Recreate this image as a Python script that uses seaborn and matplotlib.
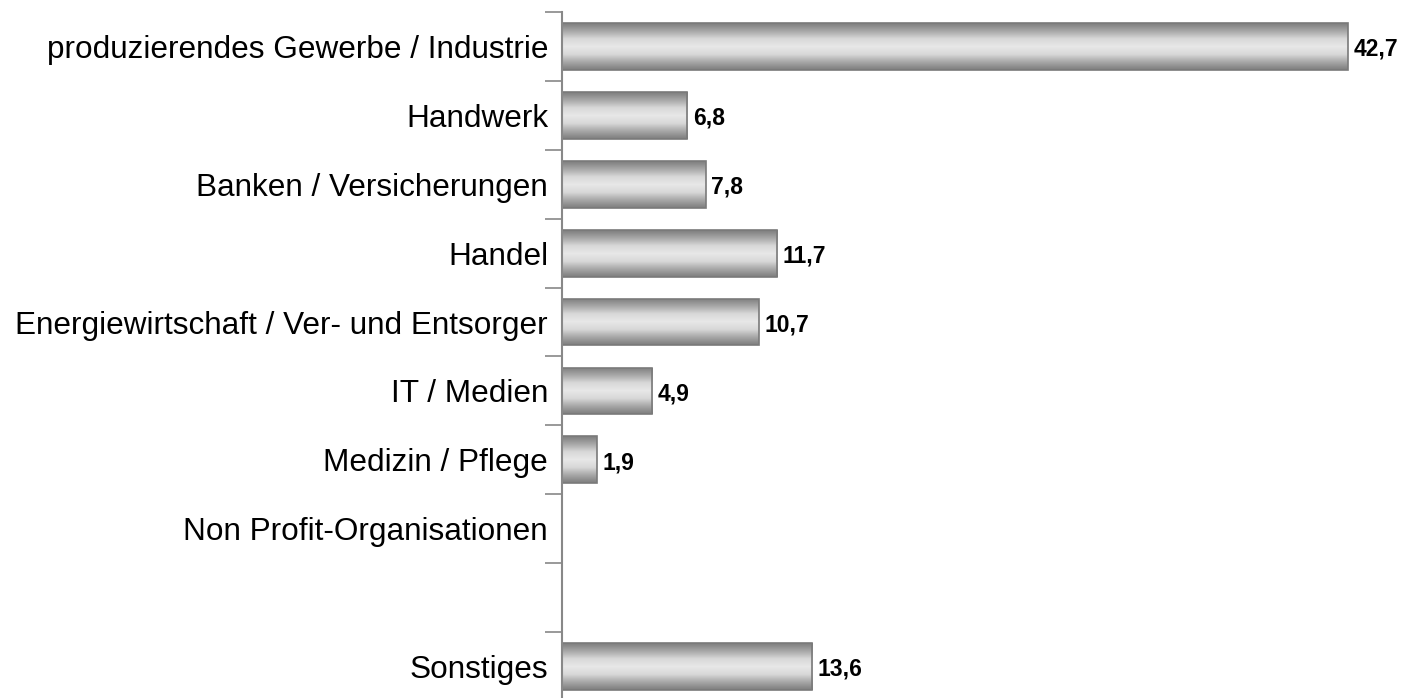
import numpy as np
import pandas as pd
import matplotlib
matplotlib.use("Agg")
import matplotlib.pyplot as plt
import seaborn as sns
from matplotlib.colors import LinearSegmentedColormap

categories = [
    "produzierendes Gewerbe / Industrie",
    "Handwerk",
    "Banken / Versicherungen",
    "Handel",
    "Energiewirtschaft / Ver- und Entsorger",
    "IT / Medien",
    "Medizin / Pflege",
    "Non Profit-Organisationen",
    " ",
    "Sonstiges",
]
values = [42.7, 6.8, 7.8, 11.7, 10.7, 4.9, 1.9, np.nan, np.nan, 13.6]
value_labels = ["42,7", "6,8", "7,8", "11,7", "10,7", "4,9", "1,9", "", "", "13,6"]

sns.set_theme(style="white")
plt.rcParams["font.family"] = ["Liberation Sans", "DejaVu Sans"]

df = pd.DataFrame({"Branche": categories, "Anteil": values})

fig = plt.figure(figsize=(14.02, 6.98), dpi=100)
ax = fig.add_axes([562 / 1402, -3 / 698, (1390 - 562) / 1402, (698 - 12 + 3) / 698])

sns.barplot(data=df, x="Anteil", y="Branche", order=categories, orient="h",
            color="#c8c8c8", width=0.68, ax=ax, errorbar=None)

cmap = LinearSegmentedColormap.from_list(
    "cyl", ["#7e7e7e", "#a8a8a8", "#d8d8d8", "#e8e8e8", "#d8d8d8", "#a8a8a8", "#7e7e7e"])
grad = np.linspace(0, 1, 64).reshape(-1, 1)

for patch in list(ax.patches):
    w = patch.get_width()
    if not np.isfinite(w) or w <= 0:
        continue
    x0 = patch.get_x()
    y0 = patch.get_y()
    h = patch.get_height()
    idx = int(round(y0 + h / 2))
    lab = value_labels[idx]
    patch.set_facecolor("none")
    patch.set_edgecolor("#7a7a7a")
    patch.set_linewidth(1.2)
    im = ax.imshow(grad, cmap=cmap, aspect="auto", extent=[x0, x0 + w, y0 + h, y0],
                   zorder=patch.get_zorder() - 0.1, interpolation="bilinear")
    im.set_clip_path(patch)
    ax.text(x0 + w + 0.3, y0 + h / 2 + 0.04, lab, ha="left", va="center",
            fontsize=16.5, fontweight="bold", color="black")

ax.set_xlim(0, 45)
ax.set_ylim(len(categories) - 0.5, -0.5)

ax.set_xlabel("")
ax.set_ylabel("")
ax.set_xticks([])
ax.tick_params(axis="y", which="major", length=0, labelsize=22.7, pad=10, labelcolor="black")
ax.set_yticks(np.arange(-0.5, len(categories) - 0.5 + 0.01, 1), minor=True)
ax.tick_params(axis="y", which="minor", length=12, width=1.2, color="#888888", left=True)
for s in ["top", "right", "bottom"]:
    ax.spines[s].set_visible(False)
ax.spines["left"].set_color("#888888")
ax.spines["left"].set_linewidth(1.5)

fig.savefig("out.png", dpi=100)
